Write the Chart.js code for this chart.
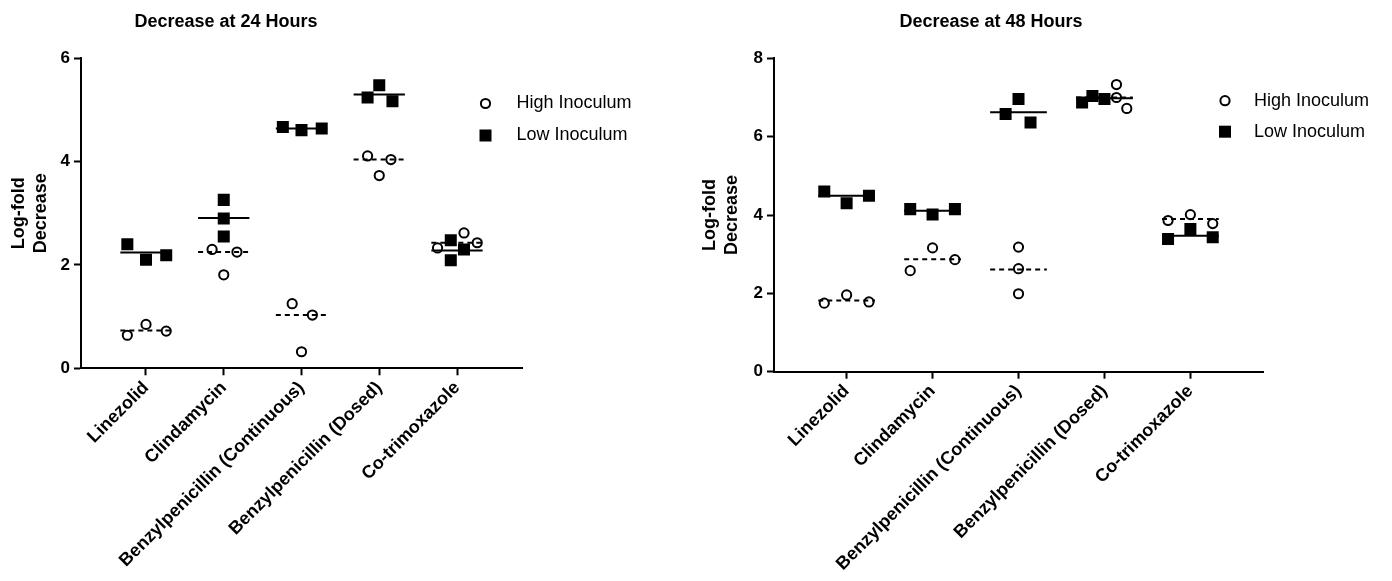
<!DOCTYPE html>
<html><head><meta charset="utf-8">
<script src="https://cdn.jsdelivr.net/npm/chart.js@4.4.1/dist/chart.umd.min.js"></script>
<style>
html,body{margin:0;padding:0;background:#fff;}
#wrap{position:relative;width:1392px;height:581px;overflow:hidden;background:#fff;}
.c{position:absolute;top:0;}
</style></head><body>
<div id="wrap">
<canvas id="c24" class="c" style="left:0" width="690" height="581"></canvas>
<canvas id="c48" class="c" style="left:690px" width="702" height="581"></canvas>
</div>
<script>
// ---- data ----
const categories = ['Linezolid', 'Clindamycin', 'Benzylpenicillin (Continuous)', 'Benzylpenicillin (Dosed)', 'Co-trimoxazole'];
const seriesNames = ['High Inoculum', 'Low Inoculum'];
const titles = ['Decrease at 24 Hours', 'Decrease at 48 Hours'];
const yTitle = ['Log-fold', 'Decrease'];
const yTicks24 = [0, 2, 4, 6];
const yTicks48 = [0, 2, 4, 6, 8];

// 24 h: three replicates per drug
const high24 = [[0.64, 0.85, 0.72], [2.30, 2.25, 1.81], [1.25, 1.03, 0.32], [4.11, 4.04, 3.73], [2.33, 2.62, 2.43]];
const low24  = [[2.40, 2.10, 2.19], [3.26, 2.90, 2.55], [4.67, 4.61, 4.64], [5.24, 5.48, 5.17], [2.48, 2.09, 2.30]];
const highLine24 = [0.73, 2.25, 1.03, 4.04, 2.43];
const lowLine24  = [2.24, 2.91, 4.64, 5.30, 2.28];

// 48 h
const high48 = [[1.75, 1.96, 1.78], [2.58, 3.16, 2.86], [3.18, 2.63, 1.99], [7.33, 7.00, 6.72], [3.86, 4.01, 3.78]];
const low48  = [[4.60, 4.30, 4.49], [4.15, 4.01, 4.15], [6.58, 6.96, 6.36], [6.87, 7.04, 6.96], [3.39, 3.64, 3.43]];
const highLine48 = [1.82, 2.87, 2.61, 7.00, 3.90];
const lowLine48  = [4.49, 4.11, 6.62, 6.98, 3.47];

// horizontal spread of replicate points within a category (category units)
const spreadHigh24 = [[-0.24, 0, 0.26], [-0.15, 0.17, 0], [-0.12, 0.14, 0], [-0.15, 0.15, 0], [-0.25, 0.09, 0.26]];
const spreadLow24  = [[-0.24, 0, 0.26], [0, 0, 0], [-0.24, 0, 0.26], [-0.15, 0, 0.17], [-0.08, -0.08, 0.09]];
const spreadHigh48 = [[-0.26, 0, 0.26], [-0.26, 0, 0.26], [0, 0, 0], [0.14, 0.14, 0.26], [-0.26, 0, 0.26]];
const spreadLow48  = [[-0.26, 0, 0.26], [-0.26, 0, 0.26], [-0.15, 0, 0.14], [-0.26, -0.14, 0], [-0.26, 0, 0.26]];

// ---- drawing ----
const FONT = '"Liberation Sans", Arial, Helvetica, sans-serif';
Chart.defaults.font.family = FONT;
Chart.defaults.color = '#000';

const HALF = 0.33;
function points(vals, spread) {
  return vals.flatMap((g, i) => g.map((v, k) => ({x: i + spread[i][k], y: v})));
}
function segments(lines) {
  return lines.flatMap((m, i) => [{x: i - HALF, y: m}, {x: i + HALF, y: m}, {x: i + 0.5, y: null}]);
}

const decor = {
  id: 'decor',
  afterDraw(chart, args, o) {
    const ctx = chart.ctx;
    ctx.save();
    ctx.fillStyle = '#000';
    ctx.textBaseline = 'middle';
    ctx.textAlign = 'center';
    ctx.font = 'bold 18px ' + FONT;
    ctx.fillText(o.title, o.titleX, o.titleY);
    // legend
    ctx.textAlign = 'left';
    ctx.font = '18px ' + FONT;
    const items = [chart.data.datasets[2], chart.data.datasets[3]];
    items.forEach((ds, i) => {
      const y = o.legendY[i];
      ctx.beginPath();
      if (ds.pointStyle === 'circle') {
        ctx.lineWidth = 2; ctx.strokeStyle = '#000'; ctx.fillStyle = '#fff';
        ctx.arc(o.legendX, y, 4.6, 0, Math.PI * 2);
        ctx.fill(); ctx.stroke();
      } else {
        ctx.fillStyle = '#000';
        ctx.fillRect(o.legendX - 6, y - 6, 12, 12);
      }
      ctx.fillStyle = '#000';
      ctx.fillText(ds.label, o.legendX + o.textGap, y);
    });
    ctx.restore();
  }
};

function build(id, cfg) {
  return new Chart(document.getElementById(id), {
    type: 'scatter',
    data: {
      datasets: [
        {label: seriesNames[0] + ' line', data: segments(cfg.highLine), showLine: true, spanGaps: false,
          borderColor: '#000', borderWidth: 2, borderDash: [5, 4], pointRadius: 0, order: 0},
        {label: seriesNames[1] + ' line', data: segments(cfg.lowLine), showLine: true, spanGaps: false,
          borderColor: '#000', borderWidth: 2, pointRadius: 0, order: 0},
        {label: seriesNames[0], data: points(cfg.high, cfg.spreadHigh), pointStyle: 'circle', pointRadius: 4.6,
          pointBorderWidth: 2, pointBackgroundColor: '#fff', pointBorderColor: '#000', showLine: false, order: 1},
        {label: seriesNames[1], data: points(cfg.low, cfg.spreadLow), pointStyle: 'rect', pointRadius: 8.5,
          pointBorderWidth: 0, pointBackgroundColor: '#000', pointBorderColor: '#000', showLine: false, order: 2}
      ]
    },
    options: {
      responsive: false,
      animation: false,
      events: [],
      layout: {padding: {top: 58.3, left: 0, right: cfg.padRight, bottom: 0}},
      plugins: {
        legend: {display: false},
        tooltip: {enabled: false},
        decor: cfg.decor
      },
      scales: {
        x: {
          type: 'linear', min: cfg.xMin, max: cfg.xMax,
          afterBuildTicks: s => { s.ticks = categories.map((_, i) => ({value: i})); },
          afterFit: s => { s.height = cfg.xHeight; },
          ticks: {autoSkip: false, maxRotation: 45, minRotation: 45, padding: 2,
            font: {size: 18, weight: 'bold'}, color: '#000',
            callback: v => categories[v]},
          grid: {drawOnChartArea: false, drawTicks: true, tickLength: 7, tickWidth: 2, tickColor: '#000'},
          border: {display: true, color: '#000', width: 2}
        },
        y: {
          min: 0, max: cfg.yMax,
          afterBuildTicks: s => { s.ticks = cfg.yTicks.map(v => ({value: v})); },
          afterFit: s => { s.width = cfg.yWidth; },
          ticks: {padding: 4, font: {size: 17, weight: 'bold'}, color: '#000'},
          grid: {drawOnChartArea: false, drawTicks: true, tickLength: 7, tickWidth: 2, tickColor: '#000'},
          border: {display: true, color: '#000', width: 2},
          title: {display: true, text: yTitle, color: '#000', font: {size: 18, weight: 'bold', lineHeight: 1.22},
            padding: {top: cfg.yTitlePad, bottom: 0}}
        }
      }
    },
    plugins: [decor]
  });
}

build('c24', {
  high: high24, low: low24, highLine: highLine24, lowLine: lowLine24,
  spreadHigh: spreadHigh24, spreadLow: spreadLow24,
  yMax: 6, yTicks: yTicks24, xMin: -0.836, xMax: 4.836,
  padRight: 168, xHeight: 212.7, yWidth: 81, yTitlePad: 8,
  decor: {title: titles[0], titleX: 226, titleY: 22.5, legendX: 485.5, legendY: [103.5, 135.5], textGap: 31}
});
build('c48', {
  high: high48, low: low48, highLine: highLine48, lowLine: lowLine48,
  spreadHigh: spreadHigh48, spreadLow: spreadLow48,
  yMax: 8, yTicks: yTicks48, xMin: -0.845, xMax: 4.845,
  padRight: 129, xHeight: 209.3, yWidth: 84, yTitlePad: 9,
  decor: {title: titles[1], titleX: 301, titleY: 22.5, legendX: 535, legendY: [100.7, 131.7], textGap: 29}
});
</script>
</body></html>
